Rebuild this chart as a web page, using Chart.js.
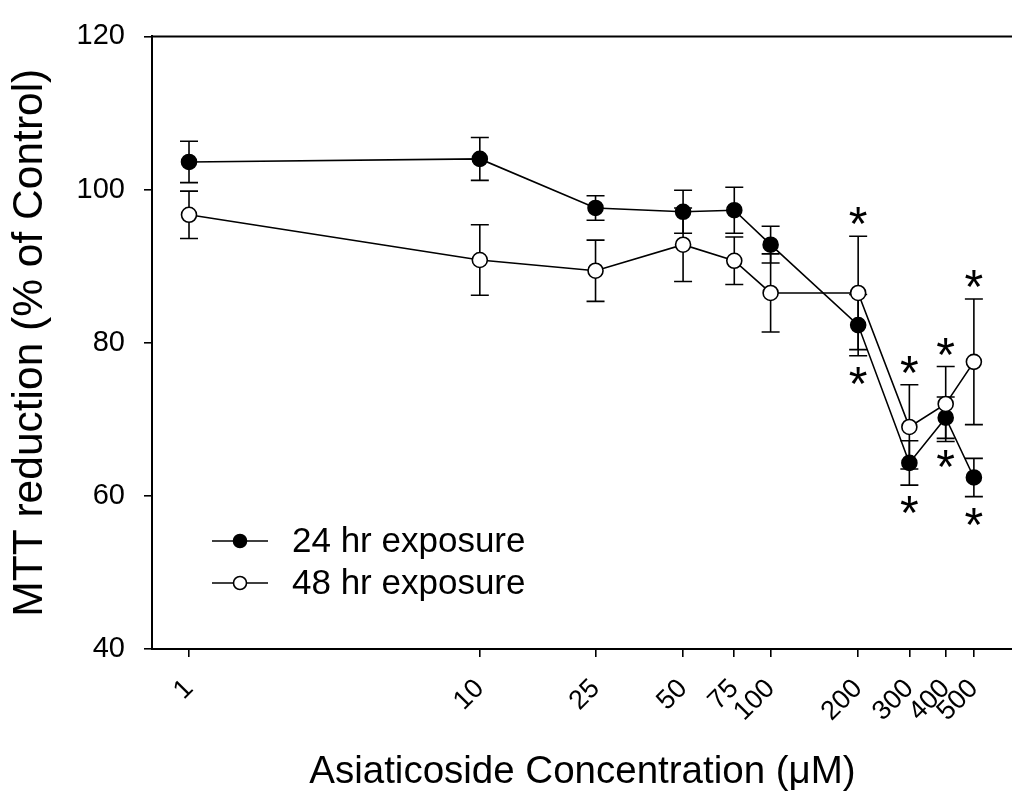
<!DOCTYPE html>
<html>
<head>
<meta charset="utf-8">
<script src="https://cdn.jsdelivr.net/npm/chart.js@4"></script>
<style>
  body { margin: 0; background: #fff; overflow: hidden; }
  #wrap { width: 1012px; height: 800px; overflow: hidden; }
</style>
</head>
<body>
<div id="wrap"><canvas id="chartMTT" width="1022" height="800"></canvas></div>
<script>
// concentraciones (uM) y valores
const conc = [1, 10, 25, 50, 75, 100, 200, 300, 400, 500]
const mean24 = [103.6, 104.0, 97.6, 97.1, 97.3, 92.8, 82.3, 64.3, 70.2, 62.4]
const err24 = [2.7, 2.8, 1.6, 2.8, 3.0, 2.4, 4.0, 2.9, 2.7, 2.5]
const mean48 = [96.7, 90.8, 89.4, 92.8, 90.7, 86.5, 86.5, 69.0, 72.0, 77.5]
const err48 = [3.1, 4.6, 4.0, 4.8, 3.1, 5.1, 7.4, 5.5, 4.9, 8.2]
// asteriscos: 24 hr debajo, 48 hr encima
const sig24 = [false, false, false, false, false, false, true, true, true, true]
const sig48 = [false, false, false, false, false, false, true, true, true, true]
const yTicks = [40, 60, 80, 100, 120]
const seriesNames = ["24 hr exposure", "48 hr exposure"]
const seriesFill = ["#000", "#fff"]

const FONT = "'Liberation Sans', Arial, sans-serif"
const STAR = 48

const errorBars = {
  id: "errorBars",
  beforeDatasetsDraw(chart) {
    const ctx = chart.ctx
    const y = chart.scales.y
    ctx.save()
    ctx.strokeStyle = "#000"
    ctx.lineWidth = 1.6
    chart.data.datasets.forEach((ds, di) => {
      const meta = chart.getDatasetMeta(di)
      meta.data.forEach((pt, i) => {
        const v = ds.data[i].y
        const e = ds.errors[i]
        const top = y.getPixelForValue(v + e)
        const bot = y.getPixelForValue(v - e)
        ctx.beginPath()
        ctx.moveTo(pt.x, top)
        ctx.lineTo(pt.x, bot)
        ctx.moveTo(pt.x - 9, top)
        ctx.lineTo(pt.x + 9, top)
        ctx.moveTo(pt.x - 9, bot)
        ctx.lineTo(pt.x + 9, bot)
        ctx.stroke()
      })
    })
    ctx.restore()
  },
  afterDatasetsDraw(chart) {
    const ctx = chart.ctx
    const y = chart.scales.y
    const a = chart.chartArea
    ctx.save()
    // marco superior
    ctx.strokeStyle = "#000"
    ctx.lineWidth = 2
    ctx.beginPath()
    ctx.moveTo(a.left, a.top)
    ctx.lineTo(a.right + 10, a.top)
    ctx.stroke()

    // asteriscos
    ctx.fillStyle = "#000"
    ctx.font = STAR + "px " + FONT
    ctx.textAlign = "center"
    ctx.textBaseline = "alphabetic"
    chart.data.datasets.forEach((ds, di) => {
      const meta = chart.getDatasetMeta(di)
      meta.data.forEach((pt, i) => {
        if (!ds.sig[i]) return
        const v = ds.data[i].y
        const e = ds.errors[i]
        const cy = ds.starAbove ? y.getPixelForValue(v + e) - 16 : y.getPixelForValue(v - e) + 24
        ctx.fillText("*", pt.x, cy + STAR * 0.42)
      })
    })

    // leyenda
    ctx.font = "35px " + FONT
    ctx.textAlign = "left"
    ctx.textBaseline = "middle"
    seriesNames.forEach((name, k) => {
      const ly = 541 + k * 42
      ctx.strokeStyle = "#000"
      ctx.lineWidth = 1.6
      ctx.beginPath()
      ctx.moveTo(212, ly)
      ctx.lineTo(268, ly)
      ctx.stroke()
      ctx.beginPath()
      ctx.arc(240, ly, 6.5, 0, Math.PI * 2)
      ctx.fillStyle = seriesFill[k]
      ctx.fill()
      ctx.stroke()
      ctx.fillStyle = "#000"
      ctx.fillText(name, 292, ly + 1)
    })
    ctx.restore()
  },
}

new Chart(document.getElementById("chartMTT"), {
  type: "line",
  data: {
    datasets: [
      {
        label: seriesNames[1],
        data: conc.map((c, i) => ({ x: c, y: mean48[i] })),
        errors: err48,
        sig: sig48,
        starAbove: true,
        borderColor: "#000",
        borderWidth: 1.6,
        pointRadius: 7.5,
        pointBorderWidth: 1.6,
        pointBackgroundColor: seriesFill[1],
        pointBorderColor: "#000",
        tension: 0,
      },
      {
        label: seriesNames[0],
        data: conc.map((c, i) => ({ x: c, y: mean24[i] })),
        errors: err24,
        sig: sig24,
        starAbove: false,
        borderColor: "#000",
        borderWidth: 1.6,
        pointRadius: 7.5,
        pointBorderWidth: 1.6,
        pointBackgroundColor: seriesFill[0],
        pointBorderColor: "#000",
        tension: 0,
      },
    ],
  },
  options: {
    responsive: false,
    animation: false,
    layout: { padding: { top: 31, left: 0, right: 0, bottom: 0 } },
    plugins: { legend: { display: false }, tooltip: { enabled: false } },
    scales: {
      x: {
        type: "logarithmic",
        bounds: "data",
        min: 0.746,
        max: 681,
        afterBuildTicks: (s) => { s.ticks = conc.map((v) => ({ value: v })) },
        afterFit: (s) => {
          s.height = 151
          s.paddingLeft = 0
          s.paddingRight = 0
        },
        ticks: {
          autoSkip: false,
          minRotation: 45,
          maxRotation: 45,
          padding: 16,
          color: "#000",
          font: { family: FONT, size: 27 },
          callback: (v) => String(v),
        },
        grid: { display: true, drawOnChartArea: false, drawTicks: true, tickLength: 8, color: "#000", lineWidth: 1.6 },
        border: { display: true, color: "#000", width: 2 },
        title: {
          display: true,
          text: "Asiaticoside Concentration (μM)",
          color: "#000",
          font: { family: FONT, size: 38.5 },
          padding: { top: 0, bottom: 5 },
        },
      },
      y: {
        min: 40,
        max: 120,
        afterBuildTicks: (s) => { s.ticks = yTicks.map((v) => ({ value: v })) },
        afterFit: (s) => { s.width = 152 },
        ticks: {
          padding: 19,
          color: "#000",
          font: { family: FONT, size: 29 },
        },
        grid: { display: true, drawOnChartArea: false, drawTicks: true, tickLength: 8, color: "#000", lineWidth: 1.6 },
        border: { display: true, color: "#000", width: 2 },
        title: {
          display: true,
          text: "MTT reduction (% of Control)",
          color: "#000",
          font: { family: FONT, size: 42.5 },
          padding: { top: 5, bottom: 0 },
        },
      },
    },
  },
  plugins: [errorBars],
})
</script>
</body>
</html>
